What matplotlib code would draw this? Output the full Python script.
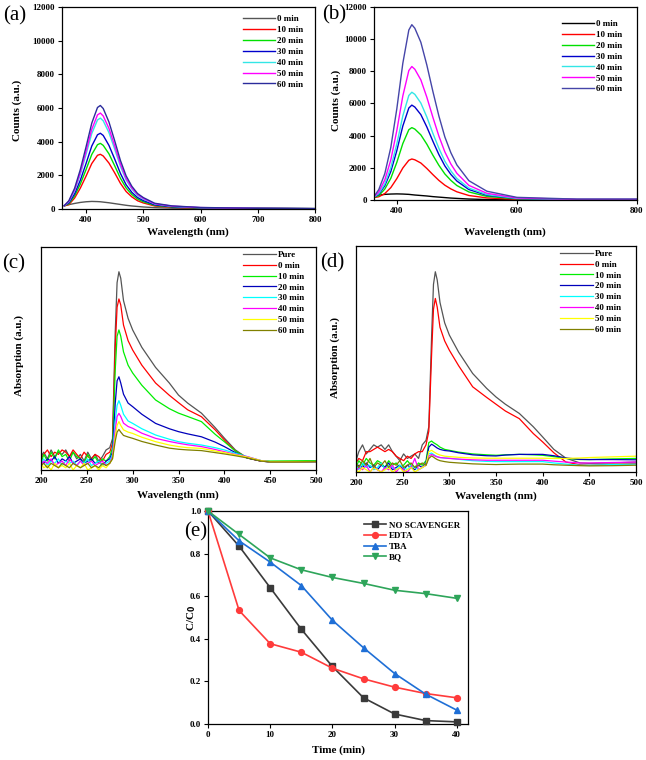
import matplotlib
matplotlib.use("Agg")
import matplotlib.pyplot as plt

plt.rcParams['font.family'] = ['Liberation Serif', 'DejaVu Serif']
plt.rcParams['font.weight'] = 'bold'

# ---------------- Panel (a) ----------------
wl_a = [362, 370, 380, 390, 400, 410, 420, 425, 430, 440, 450, 460, 470, 480, 490, 500, 520, 550, 600, 700, 800]
a_labels = ['0 min', '10 min', '20 min', '30 min', '40 min', '50 min', '60 min']
a_0 = [200, 260, 330, 390, 430, 450, 440, 430, 410, 370, 320, 270, 220, 180, 150, 120, 80, 50, 30, 60, 30]
a_10 = [180, 260, 650, 1240, 1950, 2700, 3190, 3250, 3150, 2730, 2150, 1530, 1040, 720, 490, 360, 180, 100, 50, 25, 15]
a_20 = [190, 310, 780, 1480, 2340, 3240, 3820, 3900, 3780, 3280, 2570, 1830, 1250, 860, 590, 430, 215, 120, 60, 30, 20]
a_30 = [200, 360, 900, 1710, 2700, 3740, 4410, 4500, 4370, 3780, 2970, 2120, 1440, 990, 680, 500, 250, 135, 70, 30, 20]
a_40 = [200, 430, 1080, 2050, 3240, 4480, 5290, 5400, 5240, 4540, 3560, 2540, 1730, 1190, 810, 590, 300, 160, 80, 35, 20]
a_50 = [200, 460, 1140, 2170, 3420, 4730, 5590, 5700, 5530, 4790, 3760, 2680, 1820, 1250, 860, 630, 310, 170, 85, 35, 20]
a_60 = [200, 490, 1230, 2340, 3690, 5100, 6030, 6150, 5970, 5170, 4060, 2890, 1970, 1350, 920, 680, 340, 185, 90, 40, 20]

# ---------------- Panel (b) ----------------
wl_b = [362, 370, 380, 390, 400, 410, 420, 425, 430, 440, 450, 460, 470, 480, 490, 500, 520, 550, 600, 700, 800]
b_0 = [250, 300, 350, 370, 380, 370, 350, 330, 310, 280, 250, 210, 180, 150, 120, 100, 60, 30, 20, 10, 10]
b_10 = [150, 200, 400, 770, 1330, 1990, 2470, 2550, 2500, 2300, 1960, 1580, 1220, 920, 690, 510, 280, 130, 40, 20, 20]
b_20 = [170, 270, 680, 1350, 2340, 3510, 4370, 4500, 4410, 4050, 3470, 2790, 2160, 1620, 1220, 900, 500, 225, 70, 30, 30]
b_30 = [180, 350, 890, 1770, 3070, 4600, 5720, 5900, 5780, 5310, 4540, 3660, 2830, 2120, 1590, 1180, 650, 295, 90, 30, 30]
b_40 = [190, 400, 1000, 2010, 3480, 5230, 6500, 6700, 6570, 6030, 5160, 4150, 3220, 2410, 1810, 1340, 740, 335, 100, 35, 35]
b_50 = [200, 500, 1250, 2490, 4320, 6470, 8050, 8300, 8130, 7470, 6390, 5150, 3980, 2990, 2240, 1660, 910, 415, 125, 40, 40]
b_60 = [220, 650, 1640, 3270, 5670, 8500, 10570, 10900, 10680, 9810, 8390, 6760, 5230, 3920, 2940, 2180, 1200, 545, 165, 55, 55]

# ---------------- Panel (c) ----------------
wl_c = [200, 203, 207, 211, 215, 219, 223, 227, 231, 235, 239, 243, 247, 251, 255, 259, 263, 267, 271, 275,
        278, 281, 283, 285, 287, 290, 295, 300, 310, 325, 340, 350, 360, 375, 390, 400, 412, 425, 440, 450, 475, 500]
cd_labels = ['Pure', '0 min', '10 min', '20 min', '30 min', '40 min', '50 min', '60 min']
c_pure = [0.06, 0.08, 0.05, 0.09, 0.06, 0.08, 0.07, 0.09, 0.06, 0.08, 0.05, 0.07, 0.04, 0.08, 0.05, 0.07, 0.04, 0.06, 0.09, 0.10,
          0.14, 0.62, 0.84, 0.889, 0.86, 0.76, 0.68, 0.628, 0.55, 0.46, 0.39, 0.336, 0.30, 0.255, 0.19, 0.143, 0.09, 0.054, 0.040, 0.037, 0.037, 0.038]
c_0 = [0.05, 0.07, 0.09, 0.06, 0.08, 0.07, 0.09, 0.08, 0.06, 0.09, 0.07, 0.05, 0.08, 0.06, 0.05, 0.07, 0.06, 0.04, 0.07, 0.08,
       0.12, 0.55, 0.73, 0.767, 0.74, 0.65, 0.58, 0.538, 0.47, 0.39, 0.335, 0.302, 0.27, 0.239, 0.18, 0.135, 0.085, 0.054, 0.040, 0.037, 0.037, 0.038]
c_10 = [0.03, 0.07, 0.04, 0.08, 0.05, 0.09, 0.06, 0.07, 0.04, 0.08, 0.06, 0.05, 0.03, 0.07, 0.04, 0.06, 0.03, 0.05, 0.04, 0.06,
        0.10, 0.45, 0.60, 0.628, 0.60, 0.53, 0.47, 0.435, 0.38, 0.314, 0.275, 0.255, 0.24, 0.217, 0.16, 0.127, 0.085, 0.054, 0.042, 0.040, 0.041, 0.042]
c_20 = [0.04, 0.03, 0.05, 0.04, 0.06, 0.03, 0.05, 0.04, 0.06, 0.03, 0.04, 0.05, 0.03, 0.04, 0.05, 0.03, 0.04, 0.02, 0.04, 0.05,
        0.08, 0.30, 0.40, 0.418, 0.39, 0.34, 0.30, 0.284, 0.25, 0.209, 0.185, 0.172, 0.162, 0.149, 0.125, 0.105, 0.078, 0.054, 0.040, 0.036, 0.036, 0.037]
c_30 = [0.03, 0.05, 0.02, 0.04, 0.03, 0.05, 0.02, 0.04, 0.03, 0.04, 0.02, 0.04, 0.03, 0.05, 0.02, 0.03, 0.04, 0.02, 0.03, 0.04,
        0.07, 0.22, 0.29, 0.311, 0.29, 0.25, 0.22, 0.209, 0.185, 0.157, 0.138, 0.127, 0.12, 0.112, 0.10, 0.09, 0.075, 0.060, 0.042, 0.037, 0.037, 0.038]
c_40 = [0.02, 0.04, 0.03, 0.05, 0.02, 0.03, 0.04, 0.02, 0.05, 0.03, 0.02, 0.04, 0.02, 0.03, 0.04, 0.02, 0.03, 0.04, 0.02, 0.03,
        0.06, 0.18, 0.24, 0.254, 0.24, 0.21, 0.195, 0.187, 0.165, 0.142, 0.128, 0.12, 0.113, 0.105, 0.092, 0.082, 0.070, 0.060, 0.042, 0.037, 0.037, 0.038]
c_50 = [0.03, 0.01, 0.02, 0.00, 0.03, 0.01, 0.02, 0.01, 0.03, 0.00, 0.02, 0.01, 0.03, 0.00, 0.01, 0.02, 0.00, 0.02, 0.01, 0.03,
        0.05, 0.15, 0.20, 0.217, 0.20, 0.18, 0.17, 0.164, 0.147, 0.127, 0.112, 0.105, 0.10, 0.097, 0.085, 0.078, 0.068, 0.058, 0.042, 0.037, 0.037, 0.038]
c_60 = [0.02, 0.03, 0.01, 0.03, 0.02, 0.01, 0.03, 0.02, 0.01, 0.03, 0.02, 0.01, 0.02, 0.03, 0.01, 0.02, 0.01, 0.03, 0.02, 0.03,
        0.05, 0.13, 0.17, 0.182, 0.17, 0.155, 0.148, 0.142, 0.128, 0.112, 0.098, 0.093, 0.09, 0.087, 0.078, 0.072, 0.064, 0.054, 0.040, 0.036, 0.036, 0.037]

# ---------------- Panel (d) ----------------
wl_d = wl_c
d_pure = [0.05, 0.09, 0.12, 0.08, 0.10, 0.12, 0.11, 0.12, 0.10, 0.12, 0.09, 0.07, 0.05, 0.08, 0.06, 0.07, 0.08, 0.06, 0.12, 0.14,
          0.20, 0.60, 0.83, 0.886, 0.85, 0.75, 0.66, 0.606, 0.53, 0.436, 0.37, 0.332, 0.30, 0.259, 0.20, 0.155, 0.10, 0.061, 0.040, 0.038, 0.040, 0.044]
d_0 = [0.04, 0.06, 0.05, 0.09, 0.09, 0.10, 0.11, 0.10, 0.09, 0.10, 0.09, 0.07, 0.06, 0.05, 0.07, 0.06, 0.08, 0.09, 0.09, 0.12,
       0.18, 0.52, 0.72, 0.768, 0.73, 0.64, 0.58, 0.539, 0.47, 0.377, 0.33, 0.300, 0.27, 0.236, 0.17, 0.133, 0.085, 0.044, 0.032, 0.030, 0.034, 0.037]
d_10 = [0.02, 0.05, 0.03, 0.06, 0.04, 0.03, 0.05, 0.04, 0.02, 0.05, 0.03, 0.04, 0.02, 0.03, 0.05, 0.03, 0.02, 0.04, 0.03, 0.05,
        0.13, 0.137, 0.13, 0.125, 0.12, 0.11, 0.10, 0.096, 0.088, 0.080, 0.076, 0.074, 0.076, 0.078, 0.076, 0.074, 0.068, 0.060, 0.055, 0.055, 0.058, 0.060]
d_20 = [0.01, 0.03, 0.02, 0.04, 0.02, 0.03, 0.01, 0.03, 0.02, 0.04, 0.01, 0.02, 0.03, 0.01, 0.03, 0.02, 0.01, 0.03, 0.02, 0.04,
        0.11, 0.123, 0.118, 0.112, 0.106, 0.100, 0.095, 0.093, 0.085, 0.076, 0.072, 0.071, 0.075, 0.078, 0.078, 0.078, 0.072, 0.062, 0.056, 0.055, 0.055, 0.054]
d_30 = [0.03, 0.01, 0.04, 0.02, 0.03, 0.01, 0.02, 0.04, 0.01, 0.03, 0.02, 0.01, 0.03, 0.02, 0.01, 0.03, 0.02, 0.01, 0.02, 0.03,
        0.08, 0.084, 0.078, 0.072, 0.068, 0.064, 0.062, 0.061, 0.056, 0.050, 0.047, 0.046, 0.046, 0.046, 0.046, 0.046, 0.040, 0.035, 0.030, 0.030, 0.033, 0.035]
d_40 = [0.00, 0.02, 0.01, 0.03, 0.00, 0.02, 0.01, 0.00, 0.02, 0.01, 0.03, 0.00, 0.02, 0.01, 0.00, 0.02, 0.06, 0.01, 0.02, 0.03,
        0.07, 0.078, 0.074, 0.070, 0.067, 0.064, 0.062, 0.060, 0.057, 0.054, 0.052, 0.052, 0.052, 0.052, 0.052, 0.052, 0.048, 0.044, 0.040, 0.040, 0.042, 0.044]
d_50 = [0.01, 0.00, 0.02, 0.01, 0.00, 0.02, 0.01, 0.00, 0.01, 0.02, 0.00, 0.01, 0.02, 0.00, 0.01, 0.02, 0.00, 0.01, 0.02, 0.03,
        0.09, 0.096, 0.090, 0.085, 0.080, 0.075, 0.070, 0.068, 0.065, 0.062, 0.061, 0.061, 0.061, 0.061, 0.061, 0.061, 0.060, 0.060, 0.062, 0.064, 0.067, 0.070]
d_60 = [0.04, 0.02, 0.05, 0.03, 0.06, 0.02, 0.04, 0.03, 0.05, 0.02, 0.04, 0.03, 0.05, 0.02, 0.03, 0.04, 0.02, 0.03, 0.04, 0.03,
        0.06, 0.071, 0.066, 0.060, 0.055, 0.050, 0.046, 0.043, 0.040, 0.036, 0.034, 0.033, 0.034, 0.035, 0.035, 0.035, 0.032, 0.030, 0.028, 0.027, 0.028, 0.030]

# ---------------- Panel (e) ----------------
time_e = [0, 5, 10, 15, 20, 25, 30, 35, 40]
e_labels = ['NO SCAVENGER', 'EDTA', 'TBA', 'BQ']
e_none = [1.0, 0.835, 0.64, 0.445, 0.27, 0.123, 0.047, 0.016, 0.01]
e_edta = [1.0, 0.533, 0.377, 0.337, 0.262, 0.212, 0.173, 0.143, 0.123]
e_tba = [1.0, 0.86, 0.76, 0.65, 0.487, 0.358, 0.237, 0.14, 0.065]
e_bq = [1.0, 0.89, 0.78, 0.724, 0.688, 0.66, 0.628, 0.612, 0.59]

# ---------------- Styling ----------------
ab_colors = ['#555555', '#ff0000', '#00e000', '#0000cc', '#33e6e6', '#ff00ff', '#2b2b9c']
cd_colors = ['#555555', '#ff0000', '#00ee00', '#0000bb', '#00ffff', '#ff00ff', '#ffff00', '#808000']
ab_colors_b = ['#000000', '#ff0000', '#00e000', '#0000cc', '#33e6e6', '#ff00ff', '#4545a8']

W, H = 646, 760
fig = plt.figure(figsize=(W / 100, H / 100), dpi=100)


def ax_at(l, t, r, b):
    return fig.add_axes([l / W, 1 - b / H, (r - l) / W, (b - t) / H])


def fig_text(x, y, s, **kw):
    fig.text(x / W, 1 - y / H, s, ha='center', va='center', **kw)


def style(ax):
    for sp in ax.spines.values():
        sp.set_linewidth(0.9)
    ax.tick_params(direction='out', length=3, width=0.8, labelsize=6.5, pad=2)
    for lab in ax.get_xticklabels() + ax.get_yticklabels():
        lab.set_fontweight('bold')


leg_kw = dict(frameon=False, handlelength=3.6, handletextpad=0.2,
              labelspacing=0.28, prop={'weight': 'bold', 'size': 6.5})

# (a)
ax = ax_at(62, 7, 315, 209)
for ys, c, lab in zip([a_0, a_10, a_20, a_30, a_40, a_50, a_60], ab_colors, a_labels):
    ax.plot(wl_a, ys, color=c, lw=1.0, label=lab)
ax.set_xlim(358, 800)
ax.set_ylim(0, 12000)
ax.set_xticks([400, 500, 600, 700, 800])
ax.set_yticks(range(0, 12001, 2000))
style(ax)
ax.legend(loc='upper right', bbox_to_anchor=(0.985, 1.0), **leg_kw)

# (b)
ax = ax_at(374, 7, 637, 200)
for ys, c, lab in zip([b_0, b_10, b_20, b_30, b_40, b_50, b_60], ab_colors_b, a_labels):
    ax.plot(wl_b, ys, color=c, lw=1.0, label=lab)
ax.set_xlim(362, 800)
ax.set_ylim(0, 12000)
ax.set_xticks([400, 600, 800])
ax.set_yticks(range(0, 12001, 2000))
style(ax)
ax.legend(loc='upper right', bbox_to_anchor=(0.975, 0.975), **leg_kw)

# (c)
ax = ax_at(41, 247, 316, 470)
for ys, c, lab in zip([c_pure, c_0, c_10, c_20, c_30, c_40, c_50, c_60], cd_colors, cd_labels):
    ax.plot(wl_c, ys, color=c, lw=0.9, label=lab)
ax.set_xlim(200, 500)
ax.set_ylim(0, 1.0)
ax.set_xticks(range(200, 501, 50))
ax.set_yticks([])
style(ax)
ax.legend(loc='upper right', bbox_to_anchor=(0.985, 1.02), **leg_kw)

# (d)
ax = ax_at(356, 246, 636, 472)
for ys, c, lab in zip([d_pure, d_0, d_10, d_20, d_30, d_40, d_50, d_60], cd_colors, cd_labels):
    ax.plot(wl_d, ys, color=c, lw=0.9, label=lab)
ax.set_xlim(200, 500)
ax.set_ylim(0, 1.0)
ax.set_xticks(range(200, 501, 50))
ax.set_yticks([])
style(ax)
ax.legend(loc='upper right', bbox_to_anchor=(0.975, 1.02), **leg_kw)

# (e)
ax = ax_at(208, 511, 468, 724)
e_cols = ['#3a3a3a', '#ff3b3b', '#1f6fd6', '#2ea55a']
e_marks = ['s', 'o', '^', 'v']
for ys, c, m, lab in zip([e_none, e_edta, e_tba, e_bq], e_cols, e_marks, e_labels):
    ax.plot(time_e, ys, color=c, lw=1.2, marker=m, ms=4.2, label=lab, clip_on=False, zorder=3)
ax.set_xlim(0, 41.8)
ax.set_ylim(0, 1.0)
ax.set_xticks(range(0, 41, 10))
ax.set_yticks([0.0, 0.2, 0.4, 0.6, 0.8, 1.0])
ax.set_yticklabels(['0.0', '0.2', '0.4', '0.6', '0.8', '1.0'])
style(ax)
ax.legend(loc='upper right', frameon=False, handlelength=2.4, handletextpad=0.3, labelspacing=0.25,
          bbox_to_anchor=(1.0, 0.99), prop={'weight': 'bold', 'size': 6.5})

# axis labels
lab_kw = dict(fontsize=8, fontweight='bold')
fig_text(188, 232, 'Wavelength (nm)', **lab_kw)
fig_text(505, 232, 'Wavelength (nm)', **lab_kw)
fig_text(178, 495, 'Wavelength (nm)', **lab_kw)
fig_text(496, 496, 'Wavelength (nm)', **lab_kw)
fig_text(338, 750, 'Time (min)', **lab_kw)
fig_text(17, 110, 'Counts (a.u.)', rotation=90, **lab_kw)
fig_text(336, 100, 'Counts (a.u.)', rotation=90, **lab_kw)
fig_text(19, 356, 'Absorption (a.u.)', rotation=90, **lab_kw)
fig_text(335, 357, 'Absorption (a.u.)', rotation=90, **lab_kw)
fig_text(192, 618, 'C/C$_0$', rotation=90, **lab_kw)

# panel labels
pl_kw = dict(fontsize=15, fontweight='normal')
fig_text(15, 16, '(a)', **pl_kw)
fig_text(334, 15, '(b)', **pl_kw)
fig_text(14, 264, '(c)', **pl_kw)
fig_text(332, 263, '(d)', **pl_kw)
fig_text(196, 532, '(e)', **pl_kw)

fig.savefig('out.png', dpi=100)
